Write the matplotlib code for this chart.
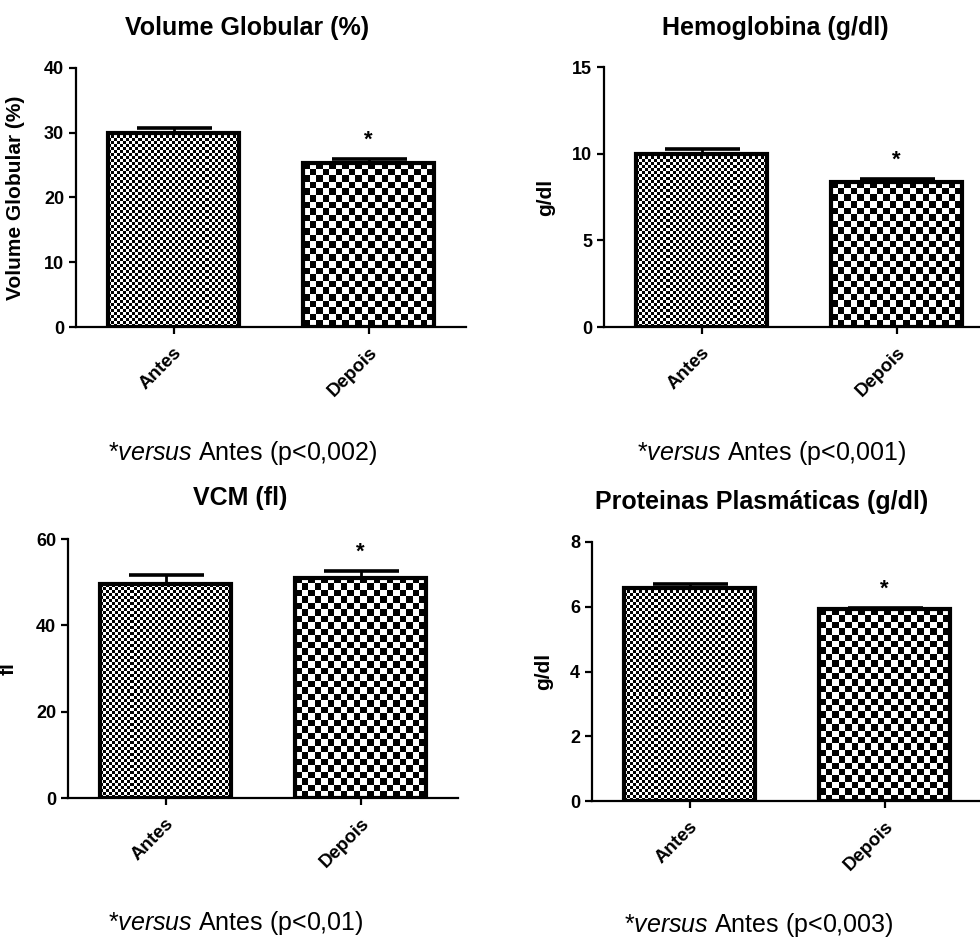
import numpy as np
import matplotlib
matplotlib.use("Agg")
import matplotlib.pyplot as plt

plt.rcParams['font.family'] = ['Liberation Sans', 'DejaVu Sans']
plt.rcParams['mathtext.fontset'] = 'custom'
plt.rcParams['mathtext.rm'] = 'Liberation Sans'
plt.rcParams['mathtext.it'] = 'Liberation Sans:italic'
plt.rcParams['mathtext.bf'] = 'Liberation Sans:bold'

categories = ['Antes', 'Depois']

vg_mean = [30.0, 25.35]
vg_err = [0.8, 0.55]
hb_mean = [10.0, 8.37]
hb_err = [0.25, 0.15]
vcm_mean = [49.5, 51.0]
vcm_err = [2.2, 1.6]
pp_mean = [6.58, 5.93]
pp_err = [0.12, 0.04]

titles = ['Volume Globular (%)', 'Hemoglobina (g/dl)', 'VCM (fl)', 'Proteinas Plasmáticas (g/dl)']
ylabels = ['Volume Globular (%)', 'g/dl', 'fl', 'g/dl']
yticks = [[0, 10, 20, 30, 40], [0, 5, 10, 15], [0, 20, 40, 60], [0, 2, 4, 6, 8]]
pvalues = ['0,002', '0,001', '0,01', '0,003']

W, H = 980, 938
fig = plt.figure(figsize=(W / 100, H / 100), dpi=100)

# axes boxes in pixels: left, top, bottom
boxes = [(76, 68, 327), (604, 67, 327), (68, 539, 798), (592, 542, 801)]
title_pos = [(247, 28), (775, 28), (240, 498), (762, 502)]
note_pos = [(243, 453), (772, 453), (236, 923), (759, 925)]
ylabel_x = [-0.13, -0.126, -0.128, -0.10]
check_px = [3, 6.5]


def checker_fill(ax, bar, size):
    (x0, y0), (x1, y1) = ax.transData.transform([[bar.get_x(), 0],
                                                  [bar.get_x() + bar.get_width(), bar.get_height()]])
    nx = max(1, int(round(abs(x1 - x0) / size)))
    ny = max(1, int(round(abs(y1 - y0) / size)))
    yy, xx = np.indices((ny, nx))
    board = (xx + yy) % 2
    im = ax.imshow(board, cmap='gray', interpolation='nearest', aspect='auto',
                   extent=(bar.get_x(), bar.get_x() + bar.get_width(), 0, bar.get_height()),
                   zorder=2, origin='upper')
    im.set_clip_path(bar)


means = [vg_mean, hb_mean, vcm_mean, pp_mean]
errs = [vg_err, hb_err, vcm_err, pp_err]

for i in range(4):
    left, top, bottom = boxes[i]
    ax = fig.add_axes([left / W, 1 - bottom / H, 390 / W, (bottom - top) / H])
    ax.set_xlim(-0.5, 1.5)
    ax.set_ylim(0, yticks[i][-1])
    x = np.arange(len(categories))
    bars = ax.bar(x, means[i], width=0.667, facecolor='none', edgecolor='black',
                  linewidth=3, zorder=3)
    for b, s in zip(bars, check_px):
        checker_fill(ax, b, s)
    ax.set_xlim(-0.5, 1.5)
    ax.set_ylim(0, yticks[i][-1])
    ax.errorbar(x, means[i], yerr=[[0, 0], errs[i]], fmt='none', ecolor='black',
                elinewidth=2, capsize=27, capthick=2.6, zorder=4)
    ax.annotate('*', xy=(1, means[i][1] + errs[i][1]), xytext=(0, 6), textcoords='offset points',
                ha='center', va='bottom', fontsize=16, fontweight='bold')

    for s in ['top', 'right']:
        ax.spines[s].set_visible(False)
    for s in ['left', 'bottom']:
        ax.spines[s].set_linewidth(1.6)
    ax.spines['bottom'].set_clip_on(False)
    ax.set_yticks(yticks[i])
    ax.set_xticks(x)
    ax.set_xticklabels(categories, rotation=45, ha='right', va='top', rotation_mode='anchor')
    ax.tick_params(axis='both', width=1.6, length=5, labelsize=13)
    ax.tick_params(axis='x', pad=7, labelsize=13.5)
    for lab in ax.get_xticklabels() + ax.get_yticklabels():
        lab.set_fontweight('bold')
    ax.set_ylabel(ylabels[i], fontsize=15, fontweight='bold')
    ax.yaxis.set_label_coords(ylabel_x[i], 0.5)

    tx, ty = title_pos[i]
    fig.text(tx / W, 1 - ty / H, titles[i], ha='center', va='center', fontsize=18, fontweight='bold')
    nx_, ny_ = note_pos[i]
    fig.text(nx_ / W, 1 - ny_ / H, r'*$\mathit{versus}$ Antes (p<' + pvalues[i] + ')',
             ha='center', va='center', fontsize=18)

fig.savefig('out.png', dpi=100)
